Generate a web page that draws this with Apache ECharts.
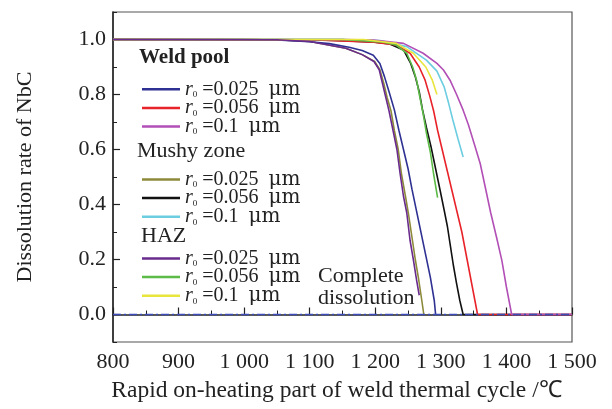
<!DOCTYPE html>
<html>
<head>
<meta charset="utf-8">
<script src="https://cdn.jsdelivr.net/npm/echarts@6/dist/echarts.min.js"></script>
<style>
html,body{margin:0;padding:0;background:#fff;}
#chart{width:612px;height:409px;}
</style>
</head>
<body>
<div id="chart"></div>
<script>
// ---- data (temperature °C, dissolution rate) ----
var groups = ['Weld pool', 'Mushy zone', 'HAZ'];
var radii = ['0.025', '0.056', '0.1'];
var xTicks = [800, 900, 1000, 1100, 1200, 1300, 1400, 1500];
var yTicks = [0, 0.2, 0.4, 0.6, 0.8, 1.0];

var weldPool_0025 = [[800,1],[1000,1],[1050,0.998],[1100,0.992],[1130,0.985],[1160,0.972],[1180,0.96],[1197,0.943],[1207,0.913],[1214,0.865],[1221,0.81],[1229,0.745],[1236,0.67],[1243,0.6],[1250,0.53],[1256,0.455],[1263,0.375],[1270,0.295],[1277,0.215],[1284,0.135],[1290,0.05],[1292,0]];
var weldPool_0056 = [[800,1],[1100,0.999],[1197,0.99],[1232,0.98],[1253,0.95],[1267,0.9],[1276,0.852],[1283,0.795],[1289,0.74],[1295,0.67],[1302,0.6],[1310,0.52],[1318,0.44],[1325,0.37],[1332,0.3],[1340,0.2],[1348,0.1],[1356,0],[1500,0]];
var weldPool_01 = [[800,1],[1150,1],[1197,0.998],[1243,0.986],[1273,0.95],[1294,0.913],[1304,0.889],[1314,0.852],[1324,0.8],[1334,0.743],[1342,0.69],[1351,0.62],[1360,0.549],[1368,0.46],[1376,0.37],[1385,0.28],[1393,0.197],[1400,0.1],[1408,0],[1500,0]];

var mushy_0025 = [[800,1],[1050,0.999],[1100,0.993],[1155,0.968],[1180,0.945],[1199,0.92],[1207,0.89],[1213,0.84],[1218,0.79],[1224,0.74],[1229,0.67],[1235,0.6],[1240,0.51],[1246,0.43],[1251,0.36],[1256,0.28],[1261,0.2],[1266,0.13],[1271,0.05],[1274,0]];
var mushy_0056 = [[800,1],[1100,0.999],[1150,0.996],[1200,0.99],[1222,0.984],[1243,0.962],[1254,0.913],[1261,0.865],[1267,0.81],[1272,0.745],[1278,0.68],[1285,0.61],[1292,0.53],[1299,0.45],[1305,0.38],[1310,0.32],[1314,0.258],[1319,0.18],[1324,0.112],[1329,0.05],[1334,0],[1500,0]];
var mushy_01 = [[800,1],[1150,1],[1207,0.996],[1248,0.974],[1278,0.925],[1294,0.885],[1305,0.828],[1312,0.767],[1318,0.71],[1326,0.64],[1334,0.573]];

var haz_0025 = [[800,1],[1050,0.999],[1100,0.993],[1155,0.968],[1180,0.945],[1198,0.92],[1206,0.89],[1211,0.84],[1216,0.79],[1221,0.74],[1227,0.67],[1233,0.6],[1238,0.51],[1243,0.43],[1248,0.37],[1253,0.27],[1258,0.2],[1263,0.125],[1267,0.07]];
var haz_0056 = [[800,1],[1150,1],[1212,0.99],[1232,0.98],[1248,0.95],[1257,0.9],[1263,0.852],[1268,0.79],[1273,0.73],[1278,0.66],[1284,0.59],[1289,0.51],[1295,0.425]];
var haz_01 = [[800,1],[1150,1],[1182,1.0],[1232,0.986],[1258,0.95],[1277,0.9],[1287,0.852],[1294,0.80]];

var completeLine = [[800,0],[1500,0]];

var seriesData = {
  'Weld pool': [weldPool_0025, weldPool_0056, weldPool_01],
  'Mushy zone': [mushy_0025, mushy_0056, mushy_01],
  'HAZ': [haz_0025, haz_0056, haz_01]
};
var colors = {
  'Weld pool': ['#2e3192', '#e8232a', '#b24fb6'],
  'Mushy zone': ['#8c8a3a', '#111111', '#6ccde0'],
  'HAZ': ['#6a2b8e', '#5cbb46', '#e8e53c']
};

// ---- chart ----
var FONT = '"Liberation Serif", "Times New Roman", serif';
var chart = echarts.init(document.getElementById('chart'), null, {renderer: 'canvas'});

function sname(g, r) { return g + '|' + r; }

var drawOrder = [
  ['Mushy zone', 0], ['Mushy zone', 1], ['Mushy zone', 2],
  ['Weld pool', 0], ['Weld pool', 1], ['Weld pool', 2],
  ['HAZ', 1], ['HAZ', 2], ['HAZ', 0]
];
var series = drawOrder.map(function (d) {
  var g = d[0], i = d[1];
  return {
    type: 'line',
    name: sname(g, radii[i]),
    data: seriesData[g][i],
    symbol: 'none',
    color: colors[g][i],
    lineStyle: {width: 1.6, color: colors[g][i]},
    z: 2
  };
});
series.push({
  type: 'line',
  name: 'complete',
  data: completeLine,
  symbol: 'none',
  lineStyle: {width: 1.3, color: '#3d4db7', type: [8, 3, 2, 3]},
  z: 5,
  silent: true
});

// one legend per row (row centres in px)
var rowCentres = [[89.3, 107.9, 126.5], [179.5, 198.1, 216.7], [258.5, 277.1, 295.7]];
var legends = [];
groups.forEach(function (g, k) {
  radii.forEach(function (r, j) {
    legends.push({
      orient: 'vertical',
      left: 142,
      top: rowCentres[k][j] - 10,
      itemWidth: 38,
      itemHeight: 2.5,
      padding: 0,
      icon: 'rect',
      data: [sname(g, r)],
      formatter: function (name) {
        var v = name.split('|')[1];
        return '{r|r}{o|0}{t| =' + v + '  }{u|\u03bcm}';
      },
      textStyle: {
        fontFamily: FONT, fontSize: 20, color: '#222', lineHeight: 20, height: 20,
        rich: {
          r: {fontFamily: FONT, fontSize: 20, fontStyle: 'italic', lineHeight: 20, color: '#222'},
          o: {fontFamily: FONT, fontSize: 9, lineHeight: 12, verticalAlign: 'bottom', color: '#222'},
          t: {fontFamily: FONT, fontSize: 20, lineHeight: 20, color: '#222'},
          u: {fontFamily: '"DejaVu Serif", serif', fontSize: 20, lineHeight: 20, color: '#222'}
        }
      }
    });
  });
});

var option = {
  animation: false,
  backgroundColor: '#ffffff',
  grid: {left: 113, right: 40, top: 12, bottom: 67, show: true, borderColor: '#555', borderWidth: 1.2, backgroundColor: 'transparent'},
  legend: legends,
  xAxis: {
    type: 'value', min: 800, max: 1500, interval: 100,
    name: 'Rapid on-heating part of weld thermal cycle /\u2103',
    nameLocation: 'middle', nameGap: 37,
    nameTextStyle: {fontFamily: FONT, fontSize: 23.5, color: '#222', padding: [0, 12, 0, 0]},
    axisLine: {show: true, lineStyle: {color: '#222', width: 1.5}},
    axisTick: {show: true, inside: true, length: 7, lineStyle: {color: '#222', width: 1.2}},
    minorTick: {show: true, splitNumber: 2, length: 4, lineStyle: {color: '#222', width: 1}},
    axisLabel: {
      fontFamily: FONT, fontSize: 22, color: '#222', margin: 9,
      formatter: function (v) { var s = String(v); return v >= 1000 ? s.slice(0, 1) + ' ' + s.slice(1) : s; }
    },
    splitLine: {show: false}
  },
  yAxis: [{
    type: 'value', min: -0.1, max: 1.1, position: 'left',
    name: 'Dissolution rate of NbC',
    nameLocation: 'middle', nameGap: 77,
    nameTextStyle: {fontFamily: FONT, fontSize: 22, color: '#222'},
    axisLine: {show: true, lineStyle: {color: '#222', width: 1.5}},
    axisTick: {show: true, inside: true, length: 7, customValues: yTicks, lineStyle: {color: '#222', width: 1.2}},
    axisLabel: {
      customValues: yTicks, fontFamily: FONT, fontSize: 22, color: '#222', margin: 7,
      formatter: function (v) { return Number(v).toFixed(1); }
    },
    splitLine: {show: false}
  }, {
    type: 'value', min: -0.1, max: 1.1, interval: 0.1, position: 'left', offset: 0,
    axisLine: {show: false},
    axisTick: {show: true, inside: true, length: 4, lineStyle: {color: '#222', width: 1}},
    axisLabel: {show: false},
    splitLine: {show: false}
  }],
  graphic: [
    {type: 'text', left: 139, top: 47, style: {text: 'Weld pool', font: 'bold 21px ' + FONT, fill: '#222'}},
    {type: 'text', left: 137, top: 140, style: {text: 'Mushy zone', font: '22px ' + FONT, fill: '#222'}},
    {type: 'text', left: 141, top: 225, style: {text: 'HAZ', font: '22px ' + FONT, fill: '#222'}},
    {type: 'text', left: 318, top: 265, style: {text: 'Complete\ndissolution', font: '22px ' + FONT, fill: '#222', lineHeight: 22}}
  ],
  series: series
};
chart.setOption(option);
</script>
</body>
</html>
